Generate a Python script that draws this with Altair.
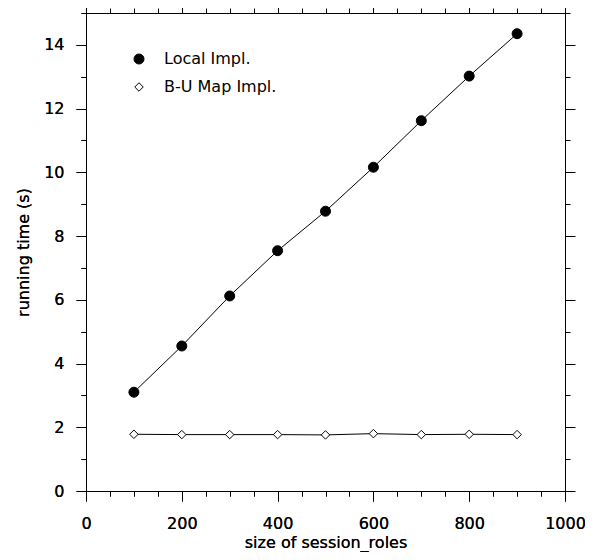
import altair as alt
import pandas as pd

sizes = [100, 200, 300, 400, 500, 600, 700, 800, 900]
local_impl = [3.10, 4.55, 6.12, 7.54, 8.78, 10.16, 11.62, 13.02, 14.35]
bu_map_impl = [1.78, 1.77, 1.77, 1.77, 1.76, 1.80, 1.77, 1.78, 1.77]
series_names = ["Local Impl.", "B-U Map Impl."]
x_ticks = list(range(0, 1001, 50))
y_ticks = [i * 0.5 for i in range(0, 31)]

rows = []
for s, v in zip(sizes, local_impl):
    rows.append({"size": s, "time": v, "series": series_names[0]})
for s, v in zip(sizes, bu_map_impl):
    rows.append({"size": s, "time": v, "series": series_names[1]})
df = pd.DataFrame(rows)

FONT = "DejaVu Sans"
tick_x = {"condition": {"test": "datum.value % 200 === 0", "value": 10}, "value": 5}
tick_y = {"condition": {"test": "datum.value % 2 === 0", "value": 10}, "value": 5}

xs = alt.Scale(domain=[0, 1000], nice=False, zero=False)
ys = alt.Scale(domain=[0, 15], nice=False, zero=False)

common_axis = dict(grid=False, domainColor="black", domainWidth=1, tickColor="black",
                   tickWidth=1, labelColor="black", labelFont=FONT, labelFontSize=16,
                   labelFontWeight="normal",
                   titleFont=FONT, titleFontSize=16, titleFontWeight="normal",
                   titleColor="black", labelOverlap=False, labelFlush=False, format="d")

x_axis = alt.Axis(values=x_ticks, tickSize=tick_x, orient="bottom",
                  labelExpr="datum.value % 200 === 0 ? datum.label : ''",
                  title="size of session_roles", labelPadding=14, titlePadding=3, **common_axis)
y_axis = alt.Axis(values=y_ticks, tickSize=tick_y, orient="left",
                  labelExpr="datum.value % 2 === 0 ? datum.label : ''",
                  title="running time (s)", labelPadding=12, titlePadding=12, **common_axis)
x_top = alt.Axis(values=x_ticks, tickSize=tick_x, orient="top", labels=False, title=None, **common_axis)
y_right = alt.Axis(values=y_ticks, tickSize=tick_y, orient="right", labels=False, title=None, **common_axis)

legend = alt.Legend(orient="none", legendX=45, legendY=38, title=None, labelFont=FONT,
                    labelFontSize=16, labelColor="black", symbolStrokeColor="black",
                    symbolStrokeWidth=1, labelOffset=17, rowPadding=12)

lines = alt.Chart(df).mark_line(color="black", strokeWidth=1).encode(
    x=alt.X("size:Q", scale=xs, axis=x_axis),
    y=alt.Y("time:Q", scale=ys, axis=y_axis),
    detail="series:N",
)

points = alt.Chart(df).mark_point(filled=True, strokeWidth=1, opacity=1).encode(
    x=alt.X("size:Q", scale=xs, axis=x_axis),
    y=alt.Y("time:Q", scale=ys, axis=y_axis),
    shape=alt.Shape("series:N", scale=alt.Scale(domain=series_names, range=["circle", "diamond"]), legend=legend),
    fill=alt.Fill("series:N", scale=alt.Scale(domain=series_names, range=["black", "white"]), legend=legend),
    stroke=alt.Stroke("series:N", scale=alt.Scale(domain=series_names, range=["black", "black"]), legend=legend),
    size=alt.Size("series:N", scale=alt.Scale(domain=series_names, range=[100, 72]), legend=legend),
)

frame = alt.Chart(df).mark_line(opacity=0).encode(
    x=alt.X("size:Q", scale=xs, axis=x_top),
    y=alt.Y("time:Q", scale=ys, axis=y_right),
    detail="series:N",
)

chart = alt.layer(lines, points, frame).resolve_axis(x="independent", y="independent").properties(
    width=479, height=478,
    autosize=alt.AutoSizeParams(type="none"),
    padding={"left": 78, "top": 5, "right": 20, "bottom": 61},
).configure_view(stroke=None).configure(background="white")

chart.save("out.html", embed_options={"renderer": "svg", "actions": False})
